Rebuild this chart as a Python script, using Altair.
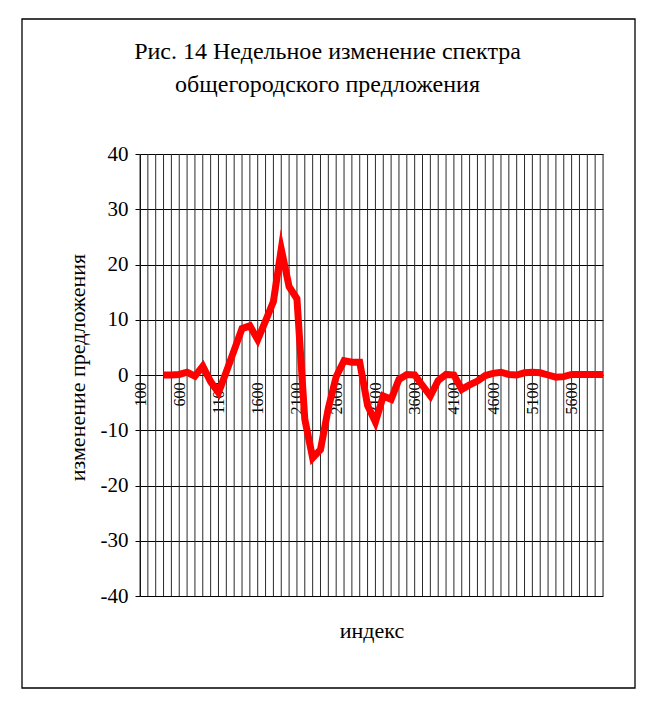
import altair as alt
import pandas as pd

# category axis (index) and weekly change values
categories = list(range(100, 6001, 100))
values = [
    None, None, None,                     # 100-300 (no data)
    0.0, 0.0, 0.1, 0.5, -0.2, 1.6, -1.2,  # 400-1000
    -3.2, 0.6, 4.5, 8.4, 8.9, 6.4, 9.8,   # 1100-1700
    13.3, 22.8, 16.0, 13.8, -8.0, -15.0,  # 1800-2300
    -13.5, -6.0, -0.3, 2.6, 2.3, 2.3,     # 2400-2900
    -5.5, -8.5, -3.8, -4.4, -0.8, 0.1,    # 3000-3500
    0.0, -1.9, -3.8, -1.0, 0.1, 0.0,      # 3600-4100
    -2.6, -1.8, -1.1, -0.1, 0.3, 0.5,     # 4200-4700
    0.1, 0.0, 0.4, 0.5, 0.4, 0.0,         # 4800-5300
    -0.4, -0.3, 0.1, 0.1, 0.1, 0.1, 0.1,  # 5400-6000
]
x_label_values = list(range(100, 5601, 500))
y_ticks = [-40, -30, -20, -10, 0, 10, 20, 30, 40]

title_lines = ["Рис. 14 Недельное изменение спектра", "общегородского предложения"]
y_title = "изменение предложения"
x_title = "индекс"

df = pd.DataFrame({"idx": categories, "val": values})

FONT = "Liberation Serif"
W, H = 463, 442

xscale = alt.Scale(domain=[100, 6000], nice=False, zero=False)
yscale = alt.Scale(domain=[-40, 40], nice=False, zero=False)

x_axis = alt.Axis(
    values=x_label_values, format="d", labelAngle=-90, grid=False, ticks=False,
    domain=False, offset=-220, labelPadding=6, labelFontSize=16, labelFlush=False,
    labelOverlap=False, labelFont=FONT, labelColor="black",
    title=x_title, titleFont=FONT, titleFontSize=22, titleFontWeight="normal",
    titleColor="black", titlePadding=206,
)
y_axis = alt.Axis(
    values=y_ticks, labelExpr="'' + datum.value", grid=True, gridColor="black",
    gridWidth=1, gridOpacity=1, tickSize=5, tickColor="black", domainColor="black",
    labelFontSize=21, labelPadding=7, labelFont=FONT, labelColor="black",
    title=y_title, titleFont=FONT, titleFontSize=22, titleFontWeight="normal",
    titleColor="black", titlePadding=11, titleY=213,
)

frame = alt.Chart(pd.DataFrame({"f": [0]})).mark_rect(
    fillOpacity=0, stroke="black", strokeWidth=1.3
).encode(
    x=alt.value(-118), x2=alt.value(495), y=alt.value(-135), y2=alt.value(534)
)

vgrid = alt.Chart(df).mark_rule(color="#2a2a2a", strokeWidth=1).encode(
    x=alt.X("idx:Q", scale=xscale, axis=x_axis)
)

line = alt.Chart(df).mark_line(
    color="#FF0000", strokeWidth=7, strokeJoin="miter", strokeMiterLimit=10,
    strokeCap="butt"
).encode(
    x=alt.X("idx:Q", scale=xscale, axis=x_axis),
    y=alt.Y("val:Q", scale=yscale, axis=y_axis),
)

chart = alt.layer(frame, vgrid, line).properties(
    width=W, height=H,
    title=alt.TitleParams(
        text=title_lines, font=FONT, fontSize=24, fontWeight="normal",
        color="black", anchor="middle", frame="group", dx=-44, offset=-79,
        lineHeight=33,
    ),
    padding={"left": 132, "top": 146, "right": 47, "bottom": 100},
    autosize=alt.AutoSizeParams(type="none"),
).configure_view(stroke="#808080", strokeWidth=1).configure(background="white")

chart.save("out.html", embed_options={"renderer": "svg", "actions": False})
